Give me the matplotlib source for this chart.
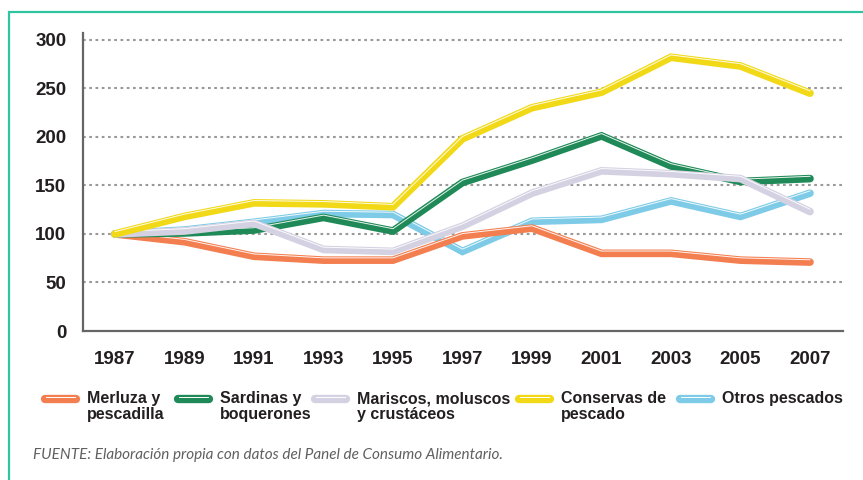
import matplotlib
matplotlib.use("Agg")
import matplotlib.pyplot as plt
from matplotlib.lines import Line2D
from matplotlib.patches import Rectangle
from matplotlib import transforms

years = [1987, 1989, 1991, 1993, 1995, 1997, 1999, 2001, 2003, 2005, 2007]

merluza = [100, 92, 77, 73, 73, 98, 106, 80, 80, 73, 71]
sardinas = [100, 101, 104, 117, 103, 153, 176, 201, 170, 154, 157]
mariscos = [100, 103, 111, 84, 82, 108, 142, 165, 162, 157, 123]
conservas = [100, 118, 132, 131, 128, 198, 230, 246, 282, 273, 245]
otros = [100, 104, 112, 121, 120, 82, 113, 115, 134, 118, 142]

labels = ["Merluza y\npescadilla", "Sardinas y\nboquerones",
          "Mariscos, moluscos\ny crustáceos", "Conservas de\npescado",
          "Otros pescados"]
colors = ["#F37F50", "#1F8A57", "#D4D1E2", "#F2D918", "#7DCBE7"]
series = [merluza, sardinas, mariscos, conservas, otros]
# drawing order seen in the picture: blue at bottom, yellow on top
draw_order = [4, 0, 1, 2, 3]

yticks = [0, 50, 100, 150, 200, 250, 300]
source = "FUENTE: Elaboración propia con datos del Panel de Consumo Alimentario."

W, H = 863, 480
fig = plt.figure(figsize=(W / 100, H / 100), dpi=100)


def fx(px):
    return px / W


def fy(py):
    return 1 - py / H


# teal frame, runs off the right and bottom edges
fig.add_artist(Rectangle((fx(9), fy(500)), fx(900), fy(12) - fy(500),
                         transform=fig.transFigure, fill=False,
                         edgecolor="#2EC4A0", linewidth=1.6))

ax = fig.add_axes([fx(83), fy(331), fx(843) - fx(83), fy(33) - fy(331)])
ax.set_xlim(1986.08, 2007.95)
ax.set_ylim(0, 307)

for y in yticks[1:]:
    ax.axhline(y, color="#999999", linewidth=1.5, linestyle=(0, (1.3, 1.7)),
               zorder=1)

hi = transforms.offset_copy(ax.transData, fig=fig, x=0, y=2.3, units="dots")
for i in draw_order:
    ax.plot(years, series[i], color=colors[i], linewidth=5.5,
            solid_capstyle="round", solid_joinstyle="miter", zorder=3)
    ax.plot(years, series[i], color="white", linewidth=0.7, alpha=0.9,
            transform=hi, solid_joinstyle="miter", zorder=3)

for s in ["top", "right"]:
    ax.spines[s].set_visible(False)
for s in ["left", "bottom"]:
    ax.spines[s].set_color("#666666")
    ax.spines[s].set_linewidth(1.6)

ax.set_yticks(yticks)
ax.set_xticks(years)
ax.tick_params(length=0)
ax.tick_params(axis="y", pad=12)
ax.tick_params(axis="x", pad=14.5)
for lab in ax.get_yticklabels() + ax.get_xticklabels():
    lab.set_fontfamily("Liberation Sans")
    lab.set_fontweight("bold")
    lab.set_fontsize(13.5)
    lab.set_color("#231F20")

# legend, laid out as in the picture
leg_handle_x = [45, 178, 315, 519, 680]
for i in range(5):
    x0 = leg_handle_x[i]
    fig.add_artist(Line2D([fx(x0), fx(x0 + 31)], [fy(399), fy(399)],
                          transform=fig.transFigure, color=colors[i],
                          linewidth=6, solid_capstyle="round"))
    fig.add_artist(Line2D([fx(x0 + 1), fx(x0 + 30)], [fy(397.3), fy(397.3)],
                          transform=fig.transFigure, color="white",
                          linewidth=0.7))
    fig.text(fx(x0 + 42), fy(391), labels[i], ha="left", va="top",
             fontfamily="Liberation Sans", fontweight="bold", fontsize=11.5,
             linespacing=1.1, color="#231F20")

fig.text(fx(33), fy(455), source, ha="left", va="center",
         fontfamily="Lato", fontstyle="italic", fontweight="normal",
         fontsize=11, color="#606060")

fig.savefig("out.png", dpi=100)
